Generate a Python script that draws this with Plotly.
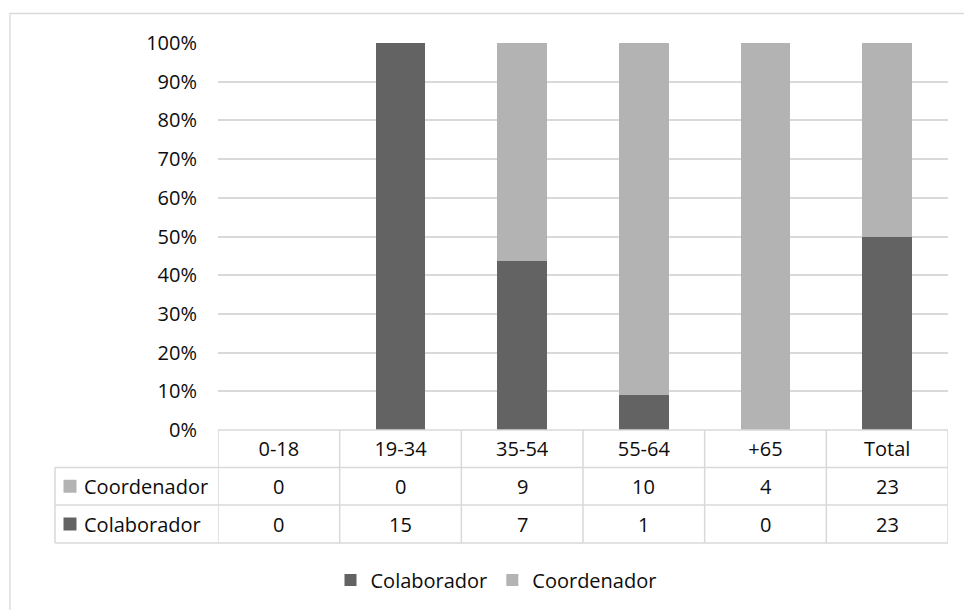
import plotly.graph_objects as go

# Age groups and role counts
categories = ["0-18", "19-34", "35-54", "55-64", "+65", "Total"]
colaborador = [0, 15, 7, 1, 0, 23]
coordenador = [0, 0, 9, 10, 4, 23]
y_ticks = [0, 10, 20, 30, 40, 50, 60, 70, 80, 90, 100]
y_tick_text = [f"{v}%" for v in y_ticks]

DARK = "#636363"
LIGHT = "#b3b3b3"
GRID = "#d9d9d9"
TEXT = "#0d0d0d"
FONT = "Open Sans"
FS = 20

W, H = 964, 610


def py(p):
    """pixel row -> paper y"""
    return 1 - p / H


def px(p):
    """pixel column -> paper x"""
    return p / W


fig = go.Figure()
fig.add_trace(go.Bar(name="Colaborador", x=categories, y=colaborador,
                     marker=dict(color=DARK, line=dict(width=0))))
fig.add_trace(go.Bar(name="Coordenador", x=categories, y=coordenador,
                     marker=dict(color=LIGHT, line=dict(width=0))))

shapes = []
annotations = []

# outer chart frame
shapes.append(dict(type="rect", xref="paper", yref="paper",
                   x0=px(10), x1=1.1, y0=-0.1, y1=py(13.5),
                   line=dict(color=GRID, width=1.3), layer="below"))

# data table grid
top, r1, r2, r3 = 430, 467.5, 505, 543
left_lbl = 55
n = len(categories)
# horizontal rules
shapes.append(dict(type="line", xref="x", yref="paper", x0=-0.5, x1=n - 0.5,
                   y0=py(top), y1=py(top), line=dict(color=GRID, width=1.5)))
for yy in (r1, r2, r3):
    shapes.append(dict(type="line", xref="paper", yref="paper",
                       x0=px(left_lbl), x1=px(948), y0=py(yy), y1=py(yy),
                       line=dict(color=GRID, width=1.5)))
# vertical rules
shapes.append(dict(type="line", xref="paper", yref="paper",
                   x0=px(left_lbl), x1=px(left_lbl), y0=py(r1), y1=py(r3),
                   line=dict(color=GRID, width=1.5)))
for i in range(n + 1):
    shapes.append(dict(type="line", xref="x", yref="paper",
                       x0=i - 0.5, x1=i - 0.5, y0=py(top), y1=py(r3),
                       line=dict(color=GRID, width=1.5)))

# row labels with colour keys, then the counts per category
rows = [("Coordenador", coordenador, LIGHT, (r1 + r2) / 2),
        ("Colaborador", colaborador, DARK, (r2 + r3) / 2)]
for label, vals, col, yc in rows:
    shapes.append(dict(type="rect", xref="paper", yref="paper",
                       x0=px(63.5), x1=px(76.5), y0=py(yc + 6.5), y1=py(yc - 6.5),
                       fillcolor=col, line=dict(width=0)))
    annotations.append(dict(x=px(82), y=py(yc), xref="paper", yref="paper",
                            text=label, showarrow=False, xanchor="left",
                            yanchor="middle",
                            font=dict(family=FONT, size=FS, color=TEXT)))
    for i, v in enumerate(vals):
        annotations.append(dict(x=i, y=py(yc), xref="x", yref="paper",
                                text=str(v), showarrow=False, xanchor="center",
                                yanchor="middle",
                                font=dict(family=FONT, size=FS, color=TEXT)))

fig.update_layout(
    template="none",
    autosize=False,
    width=W, height=H,
    margin=dict(l=0, r=0, t=0, b=0, pad=0),
    paper_bgcolor="white", plot_bgcolor="white",
    barmode="stack", barnorm="percent", bargap=0.59,
    font=dict(family=FONT, size=FS, color=TEXT),
    xaxis=dict(domain=[px(218), px(948)], range=[-0.5, n - 0.5],
               automargin=False,
               showgrid=False, zeroline=False, showline=False,
               ticks="", ticklabelstandoff=5,
               tickfont=dict(family=FONT, size=FS, color=TEXT)),
    yaxis=dict(domain=[py(430), py(43)], range=[0, 100],
               automargin=False,
               tickmode="array", tickvals=y_ticks, ticktext=y_tick_text,
               showgrid=True, gridcolor=GRID, gridwidth=1.5,
               zeroline=False, showline=False, ticks="",
               ticklabelstandoff=20,
               tickfont=dict(family=FONT, size=FS, color=TEXT)),
    legend=dict(orientation="h", traceorder="normal",
                x=px(496), xanchor="center", y=py(580), yanchor="middle",
                font=dict(family=FONT, size=FS, color=TEXT),
                bgcolor="rgba(0,0,0,0)", borderwidth=0,
                itemclick=False),
    shapes=shapes,
    annotations=annotations,
    showlegend=True,
)

fig.write_html("out.html", config={"responsive": False})
